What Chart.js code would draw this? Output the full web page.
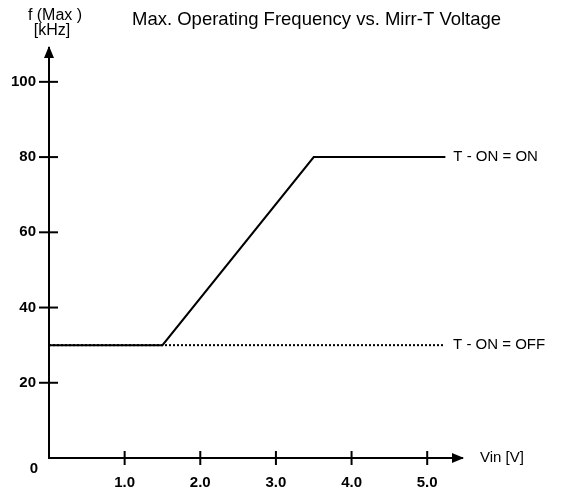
<!DOCTYPE html>
<html>
<head>
<meta charset="utf-8">
<script src="https://cdn.jsdelivr.net/npm/chart.js@4"></script>
<style>
    body { margin: 0; background: #fff; }
    #wrap { width: 563px; height: 489px; }
</style>
</head>
<body>
<div id="wrap"><canvas id="freqChart" width="563" height="489"></canvas></div>
<script>
// Max. operating frequency vs. Mirr-T voltage

const FONT = '"Liberation Sans", Arial, sans-serif';

// data
const onVin = [0, 1.5, 3.5, 5.24];
const onFreq = [30, 30, 80, 80];
const offVin = [0, 5.21];
const offFreq = [30, 30];

const xTickValues = [1, 2, 3, 4, 5];
const yTickValues = [20, 40, 60, 80, 100];

const seriesLabels = ['T - ON = ON', 'T - ON = OFF'];

const xMax = 5.46;
const yMax = 109;

// axes arrows, crossing ticks and free text
const decorations = {
    id: 'decorations',
    afterDraw(chart) {
        const ctx = chart.ctx;
        const xs = chart.scales.x;
        const ys = chart.scales.y;
        const x0 = xs.getPixelForValue(0);
        const y0 = ys.getPixelForValue(0);

        ctx.save();
        ctx.strokeStyle = '#000';
        ctx.fillStyle = '#000';
        ctx.lineWidth = 2;

        // tick marks crossing the axes
        xTickValues.forEach(v => {
            const px = xs.getPixelForValue(v);
            ctx.beginPath();
            ctx.moveTo(px, y0 - 7);
            ctx.lineTo(px, y0 + 7);
            ctx.stroke();
        });
        yTickValues.forEach(v => {
            const py = ys.getPixelForValue(v);
            ctx.beginPath();
            ctx.moveTo(x0 - 10, py);
            ctx.lineTo(x0 + 9, py);
            ctx.stroke();
        });

        // arrow heads
        const xEnd = xs.getPixelForValue(xMax);
        ctx.beginPath();
        ctx.moveTo(xEnd + 2, y0);
        ctx.lineTo(xEnd - 10, y0 - 5);
        ctx.lineTo(xEnd - 10, y0 + 5);
        ctx.closePath();
        ctx.fill();

        const yEnd = ys.getPixelForValue(yMax);
        ctx.beginPath();
        ctx.moveTo(x0, yEnd - 2);
        ctx.lineTo(x0 - 5, yEnd + 10);
        ctx.lineTo(x0 + 5, yEnd + 10);
        ctx.closePath();
        ctx.fill();

        // text
        ctx.textBaseline = 'middle';
        ctx.font = '18.5px ' + FONT;
        ctx.textAlign = 'left';
        ctx.fillText('Max. Operating Frequency vs. Mirr-T Voltage', 132, 20);

        ctx.font = '16px ' + FONT;
        ctx.textAlign = 'center';
        ctx.fillText('f (Max )', 55, 16);
        ctx.fillText('[kHz]', 52, 31);

        ctx.font = '15px ' + FONT;
        ctx.textAlign = 'left';
        ctx.fillText('Vin [V]', xEnd + 18, y0);

        ctx.textAlign = 'left';
        ctx.fillText(seriesLabels[0], xs.getPixelForValue(onVin[onVin.length - 1]) + 8,
            ys.getPixelForValue(onFreq[onFreq.length - 1]));
        ctx.fillText(seriesLabels[1], xs.getPixelForValue(offVin[offVin.length - 1]) + 10,
            ys.getPixelForValue(offFreq[offFreq.length - 1]));

        ctx.font = 'bold 15px ' + FONT;
        ctx.textAlign = 'center';
        ctx.fillText('0', 34, y0 + 11);
        ctx.restore();
    }
};

const ctx = document.getElementById('freqChart').getContext('2d');

new Chart(ctx, {
    type: 'scatter',
    data: {
        datasets: [{
            label: seriesLabels[0],
            data: onVin.map((v, i) => ({ x: v, y: onFreq[i] })),
            showLine: true,
            borderColor: '#000',
            borderWidth: 2,
            pointRadius: 0,
            tension: 0,
            order: 2
        }, {
            label: seriesLabels[1],
            data: offVin.map((v, i) => ({ x: v, y: offFreq[i] })),
            showLine: true,
            borderColor: '#000',
            borderWidth: 2,
            borderDash: [2, 2],
            pointRadius: 0,
            tension: 0,
            order: 1
        }]
    },
    options: {
        responsive: false,
        animation: false,
        layout: {
            padding: { top: 48, right: 101, left: 0, bottom: 0 }
        },
        plugins: {
            legend: { display: false },
            tooltip: { enabled: false }
        },
        scales: {
            x: {
                type: 'linear',
                min: 0,
                max: xMax,
                afterFit: (scale) => { scale.height = 31; },
                afterBuildTicks: (scale) => {
                    scale.ticks = xTickValues.map(v => ({ value: v }));
                },
                grid: { display: false },
                border: { display: true, color: '#000', width: 2 },
                ticks: {
                    color: '#000',
                    padding: 8,
                    font: { family: FONT, size: 15, weight: 'bold' },
                    callback: (value) => value.toFixed(1)
                }
            },
            y: {
                type: 'linear',
                min: 0,
                max: yMax,
                afterFit: (scale) => { scale.width = 49; },
                afterBuildTicks: (scale) => {
                    scale.ticks = yTickValues.map(v => ({ value: v }));
                },
                grid: { display: false },
                border: { display: true, color: '#000', width: 2 },
                ticks: {
                    color: '#000',
                    padding: 5,
                    font: { family: FONT, size: 15, weight: 'bold' }
                }
            }
        }
    },
    plugins: [decorations]
});
</script>
</body>
</html>
